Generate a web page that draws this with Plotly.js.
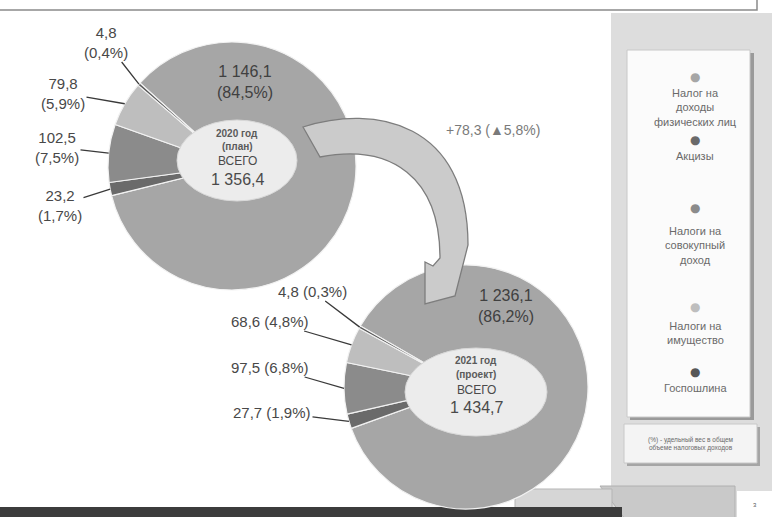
<!DOCTYPE html>
<html><head><meta charset="utf-8">
<script src="https://cdn.plot.ly/plotly-3.0.1.min.js"></script>
<style>html,body{margin:0;padding:0;background:#fff}#chart{width:772px;height:517px}</style>
</head><body><div id="chart"></div>
<script>
// ---- data ----
const categories = ['Налог на доходы физических лиц','Акцизы','Налоги на совокупный доход','Налоги на имущество','Госпошлина'];
const legendLines = [['Налог на','доходы','физических лиц'],['Акцизы'],['Налоги на','совокупный','доход'],['Налоги на','имущество'],['Госпошлина']];
const values2020 = [1146.1, 23.2, 102.5, 79.8, 4.8];
const values2021 = [1236.1, 27.7, 97.5, 68.6, 4.8];
const share2020 = [84.5, 1.7, 7.5, 5.9, 0.4];
const share2021 = [86.2, 1.9, 6.8, 4.8, 0.3];
const centerTitle2020 = ['2020 год', '(план)', 'ВСЕГО'];
const centerTitle2021 = ['2021 год', '(проект)', 'ВСЕГО'];
const noteText = ['(%) - удельный вес в общем', 'объеме налоговых доходов'];
const colors = ['#a6a6a6','#6a6a6a','#8b8b8b','#bebebe','#575757'];

// ---- helpers ----
const W = 772, H = 517;
const FONT = 'Liberation Sans, Arial, sans-serif';
const sum = a => a.reduce((s, v) => s + v, 0);
function fmt(v){
  const s = v.toFixed(1).split('.');
  return s[0].replace(/\B(?=(\d{3})+(?!\d))/g, ' ') + ',' + s[1];
}
const total2020 = sum(values2020), total2021 = sum(values2021);
const diff = total2021 - total2020;
const diffPct = diff / total2020 * 100;

const pies = [
  {cx: 232, cy: 166, r: 124, rot: -48, vals: values2020, shares: share2020},
  {cx: 466, cy: 387, r: 122, rot: -60, vals: values2021, shares: share2021}
];
function domainOf(p){
  return {x: [(p.cx - p.r) / W, (p.cx + p.r) / W], y: [1 - (p.cy + p.r) / H, 1 - (p.cy - p.r) / H]};
}
function slicePoint(p, i, f){
  const tot = sum(p.vals);
  let a = p.rot;
  for (let k = 0; k < i; k++) a += p.vals[k] / tot * 360;
  a += p.vals[i] / tot * 180;
  const rad = a * Math.PI / 180;
  return [p.cx + f * p.r * Math.sin(rad), p.cy - f * p.r * Math.cos(rad)];
}

const traces = [
  {type: 'scatter', x: [], y: [], showlegend: false, hoverinfo: 'skip'}
];
pies.forEach(p => {
  traces.push({
    type: 'pie', labels: categories, values: p.vals, sort: false, direction: 'clockwise',
    rotation: p.rot, domain: domainOf(p), textinfo: 'none', hoverinfo: 'none', showlegend: false,
    marker: {colors: colors, line: {color: '#f2f2f2', width: 1.2}}
  });
});

const ann = [];
const labColor = '#484848';
// label positions (text centres) for small slices
const labelPos = [
  [null, [60, 205], [57, 147], [63, 93], [106, 42]],
  [null, [272, 412], [270, 367], [270, 321], [312, 291]]
];
const mainPos = [[245, 82], [506, 306]];
pies.forEach((p, pi) => {
  ann.push({x: mainPos[pi][0], y: mainPos[pi][1], xref: 'x', yref: 'y', showarrow: false,
    text: fmt(p.vals[0]) + '<br>(' + fmt(p.shares[0]) + '%)',
    font: {family: FONT, size: 16, color: '#404040'}});
  for (let i = 1; i < p.vals.length; i++) {
    const tip = slicePoint(p, i, pi === 0 ? 1.0 : 1.0);
    const txt = pi === 0 ? fmt(p.vals[i]) + '<br>(' + fmt(p.shares[i]) + '%)'
                         : fmt(p.vals[i]) + ' (' + fmt(p.shares[i]) + '%)';
    ann.push({x: tip[0], y: tip[1], xref: 'x', yref: 'y', axref: 'x', ayref: 'y',
      ax: labelPos[pi][i][0], ay: labelPos[pi][i][1], text: txt, showarrow: true,
      arrowhead: 0, arrowwidth: 1.3, arrowcolor: '#3a3a3a', standoff: 0, startstandoff: 0,
      font: {family: FONT, size: 15, color: labColor}});
  }
});
// centre texts
const centers = [
  {x: 237, ys: [133, 146, 161, 179], title: centerTitle2020, total: total2020},
  {x: 476, ys: [360, 374, 390, 407], title: centerTitle2021, total: total2021}
];
centers.forEach(c => {
  ann.push({x: c.x, y: c.ys[0], xref: 'x', yref: 'y', showarrow: false, text: '<b>' + c.title[0] + '</b>', font: {family: FONT, size: 10, color: '#5a5a5a'}});
  ann.push({x: c.x, y: c.ys[1], xref: 'x', yref: 'y', showarrow: false, text: '<b>' + c.title[1] + '</b>', font: {family: FONT, size: 10, color: '#5a5a5a'}});
  ann.push({x: c.x, y: c.ys[2], xref: 'x', yref: 'y', showarrow: false, text: c.title[2], font: {family: FONT, size: 12, color: '#4a4a4a'}});
  ann.push({x: c.x, y: c.ys[3], xref: 'x', yref: 'y', showarrow: false, text: fmt(c.total), font: {family: FONT, size: 16, color: '#4a4a4a'}});
});
ann.push({x: 493, y: 130, xref: 'x', yref: 'y', showarrow: false,
  text: '+' + fmt(diff) + ' (▲' + fmt(diffPct) + '%)', font: {family: FONT, size: 14, color: '#7a7a7a'}});

// legend
const dotY = [77, 140, 208, 307, 372];
const textTop = [85, 148, 223, 318, 380];
categories.forEach((c, i) => {
  ann.push({x: 695, y: dotY[i], xref: 'x', yref: 'y', showarrow: false, text: '●', font: {family: 'DejaVu Sans', size: 12, color: colors[i]}});
  ann.push({x: 695, y: textTop[i], xref: 'x', yref: 'y', yanchor: 'top', showarrow: false,
    text: legendLines[i].join('<br>'), font: {family: FONT, size: 11, color: '#6a6a6a'}});
});
ann.push({x: 691, y: 444, xref: 'x', yref: 'y', showarrow: false, text: noteText.join('<br>'),
  font: {family: FONT, size: 6.5, color: '#6a6a6a'}});
ann.push({x: 755, y: 505, xref: 'x', yref: 'y', showarrow: false, text: '3', font: {family: FONT, size: 6, color: '#555'}});

const shapes = [
  // top header box
  {type: 'rect', xref: 'x', yref: 'y', x0: -2, x1: 757, y0: -2, y1: 10, fillcolor: '#ffffff', line: {color: '#8a8a8a', width: 1.5}, layer: 'below'},
  // right gray panel
  {type: 'rect', xref: 'x', yref: 'y', x0: 611, x1: 774, y0: 13, y1: 519, fillcolor: '#dddddd', line: {width: 0}, layer: 'below'},
  // legend box shadow + box
  {type: 'rect', xref: 'x', yref: 'y', x0: 630, x1: 754, y0: 53, y1: 420, fillcolor: '#9a9a9a', line: {width: 0}, layer: 'below'},
  {type: 'rect', xref: 'x', yref: 'y', x0: 627, x1: 750, y0: 50, y1: 417, fillcolor: '#fbfbfb', line: {color: '#c8c8c8', width: 1}, layer: 'below'},
  // note box
  {type: 'rect', xref: 'x', yref: 'y', x0: 627, x1: 760, y0: 427, y1: 466, fillcolor: '#a5a5a5', line: {width: 0}, layer: 'below'},
  {type: 'rect', xref: 'x', yref: 'y', x0: 624, x1: 757, y0: 424, y1: 463, fillcolor: '#f4f4f4', line: {color: '#c8c8c8', width: 1}, layer: 'below'},
  // footer
  {type: 'path', xref: 'x', yref: 'y', path: 'M 600,486 L 735,486 L 735,519 L 625,519 Z', fillcolor: '#c9c9c9', line: {color: '#b0b0b0', width: 1}, layer: 'below'},
  {type: 'rect', xref: 'x', yref: 'y', x0: 515, x1: 612, y0: 489, y1: 508, fillcolor: '#d6d6d6', line: {color: '#b5b5b5', width: 1}, layer: 'below'},
  {type: 'rect', xref: 'x', yref: 'y', x0: -2, x1: 622, y0: 507, y1: 519, fillcolor: '#3c3c3c', line: {width: 0}, layer: 'below'},
  {type: 'rect', xref: 'x', yref: 'y', x0: 737, x1: 774, y0: 491, y1: 519, fillcolor: '#ffffff', line: {width: 0}, layer: 'below'},
  // centre ellipses
  {type: 'circle', xref: 'x', yref: 'y', x0: 177, x1: 297, y0: 120, y1: 201, fillcolor: '#ececec', line: {color: '#d8d8d8', width: 1}, layer: 'above'},
  {type: 'circle', xref: 'x', yref: 'y', x0: 405, x1: 547, y0: 348, y1: 436, fillcolor: '#ececec', line: {color: '#d8d8d8', width: 1}, layer: 'above'},
  // curved arrow
  {type: 'path', xref: 'x', yref: 'y', layer: 'above',
   path: 'M 303,127 C 375,104 468,122 468,245 L 455,296 L 425,304 L 425,262 L 433,266 L 440,258 C 440,178 392,143 320,157 Z',
   fillcolor: '#cbcbcb', line: {color: '#7d7d7d', width: 1.3}}
];

const layout = {
  width: W, height: H, margin: {l: 0, r: 0, t: 0, b: 0},
  paper_bgcolor: '#ffffff', plot_bgcolor: '#ffffff', showlegend: false,
  xaxis: {range: [0, W], visible: false, fixedrange: true},
  yaxis: {range: [H, 0], visible: false, fixedrange: true},
  annotations: ann, shapes: shapes
};
Plotly.newPlot('chart', traces, layout, {staticPlot: true});
</script>
</body></html>
